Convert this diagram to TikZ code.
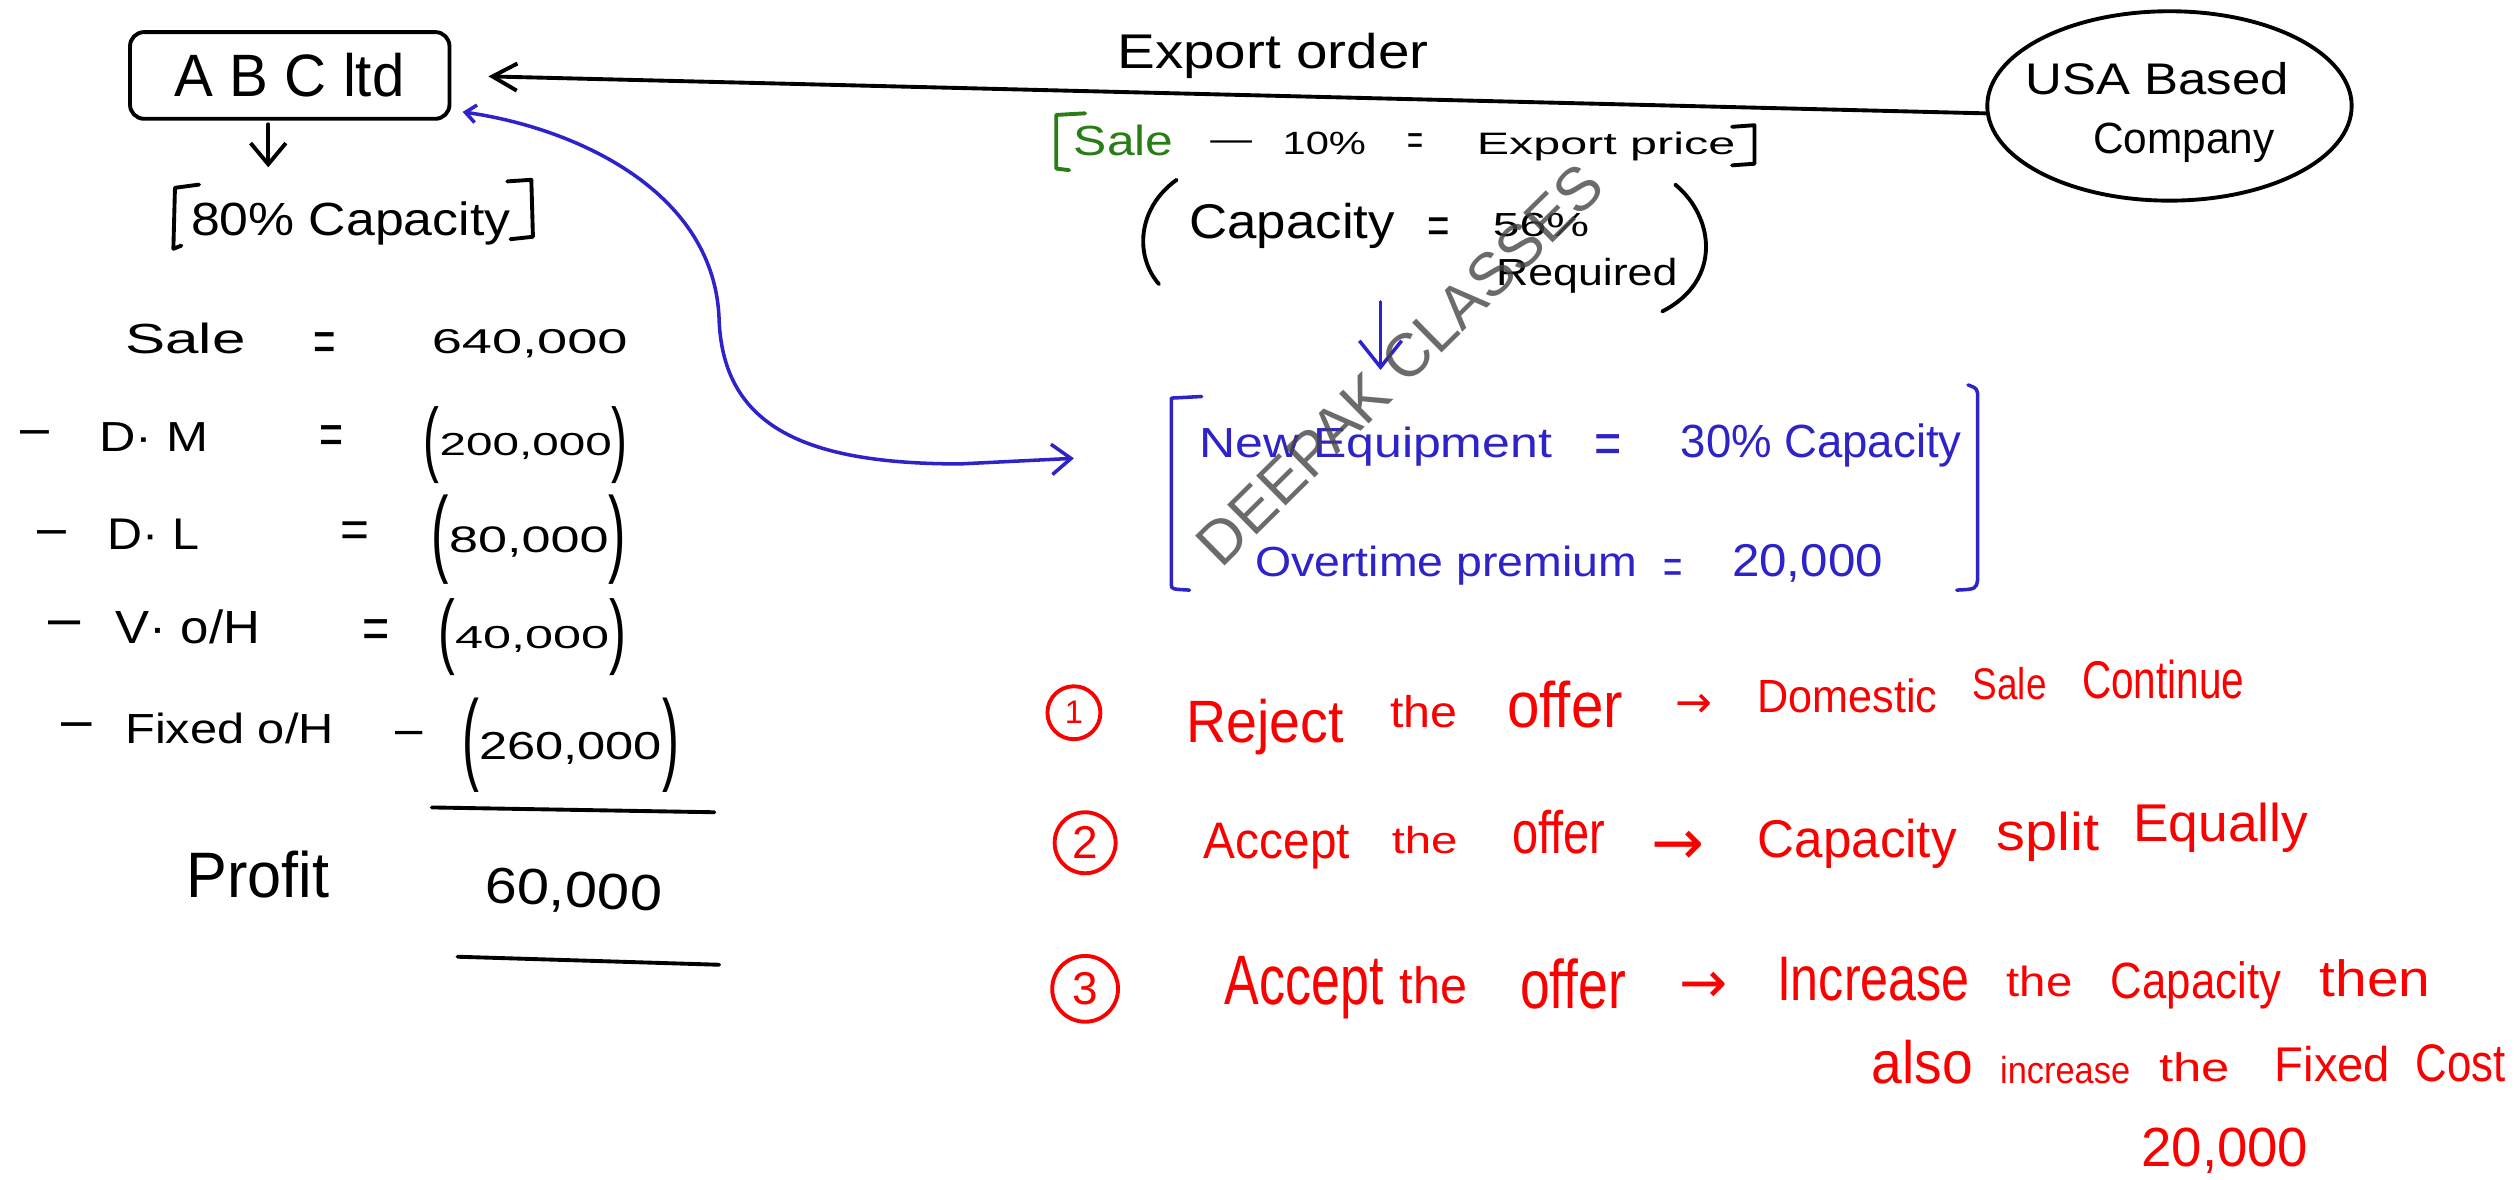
\documentclass[tikz,border=0pt]{standalone}
\usepackage{fontspec}
\setmainfont{Liberation Sans}
\newfontfamily\arrowfont{DejaVu Sans}
\usetikzlibrary{arrows.meta,shapes.geometric}
\definecolor{inkred}{RGB}{250,0,0}
\definecolor{inkblue}{RGB}{45,35,200}
\definecolor{inkgreen}{RGB}{40,125,20}
% one drawing unit
\newlength\du
\setlength\du{0.016cm}
% text squeezed into a given width and height (in drawing units)
\newcommand\hw[3]{\resizebox{#1\du}{#2\du}{#3}}
\newcommand\hwx[2]{\resizebox{#1\du}{!}{#2}}
% an amount in tall brackets
\newcommand\pv[1]{\raisebox{-0.32em}{\scalebox{1}[2.6]{(}}#1\raisebox{-0.32em}{\scalebox{1}[2.6]{)}}}

\begin{document}
\begin{tikzpicture}[x=0.016cm, y=-0.016cm,
  lbl/.style={inner sep=0pt, outer sep=0pt, anchor=base west},
  sym/.style={inner sep=0pt, outer sep=0pt, anchor=center},
  pen/.style={line width=1.1pt, line cap=round, line join=round},
  bluepen/.style={pen, draw=inkblue, line width=1pt},
  redtext/.style={text=inkred},
  bluetext/.style={text=inkblue},
  ringnum/.style={circle, draw=inkred, line width=1.1pt, inner sep=0pt, text=inkred}
]
\fill[white] (0,0) rectangle (1568,735);
\useasboundingbox (0,0) rectangle (1568,735);

% ---------------- company box and its capacity ----------------
\node[draw, line width=1.1pt, rounded corners=4pt, minimum width=199\du, minimum height=54\du, inner sep=0pt]
  (abc) at (180.5,47) {\hw{143}{27}{A B C ltd}};
\node[lbl] (cap80) at (119,147) {\hw{199}{21}{80\% Capacity}};
\draw[pen] (124,115) -- (109,117) -- (108,155) -- (113,153);
\draw[pen] (316,113) -- (331,112) -- (332,147.5) -- (318,149);
\draw[pen, -{Straight Barb[length=6pt,width=10pt]}, shorten <=1pt]
  ([xshift=-6.1pt]abc.south) -- ++(0,29);

% ---------------- statement of profit ----------------
\node[lbl] (sale) at (78,220) {\hw{75}{19}{Sale}};
\node[sym] (eq0) at (202,216) {\hw{14}{18}{=}};
\node[lbl] (v0) at (269,220) {\hw{122}{15}{640,000}};

\node[sym] (m1) at (21.5,273) {\hwx{18}{–}};
\node[lbl] (dm) at (62,281) {\hw{68}{18}{D· M}};
\node[sym] (eq1) at (206.5,274) {\hw{15}{18}{=}};
\node[lbl] (v1) at (264,284) {\hw{127}{31}{\pv{200,000}}};

\node[sym] (m2) at (32.5,335) {\hwx{18}{–}};
\node[lbl] (dl) at (67,342) {\hw{57}{19}{D· L}};
\node[sym] (eq2) at (221,333) {\hw{18}{16}{=}};
\node[lbl] (v2) at (269,344) {\hw{121}{36}{\pv{80,000}}};

\node[sym] (m3) at (40.5,392) {\hwx{20}{–}};
\node[lbl] (vo) at (72,401) {\hw{90}{21}{V· o/H}};
\node[sym] (eq3) at (234.5,395) {\hw{17}{18}{=}};
\node[lbl] (v3) at (273,404) {\hw{117}{31}{\pv{40,000}}};

\node[sym] (m4) at (48,455) {\hwx{19}{–}};
\node[lbl] (fo) at (78,463) {\hw{130}{19}{Fixed o/H}};
\node[sym] (m5) at (255,460) {\hwx{17}{–}};
\node[lbl] (v4) at (288,473) {\hw{135}{38}{\pv{260,000}}};

\draw[pen] (269,503) -- (445,506);
\node[lbl] (profit) at (116,559) {\hw{89}{29}{Profit}};
\node[lbl, rotate=-3] (v5) at (302,562) {\hw{110}{22}{60,000}};
\draw[pen] (285,596) -- (448,601);

% ---------------- export order ----------------
\node[lbl] (exp) at (696,42.6) {\hw{194}{22}{Export order}};
\node[draw, ellipse, line width=1.1pt, minimum width=227\du, minimum height=118\du] (usa) at (1351.5,66) {};
\node[lbl] (usa1) at (1262,59) {\hw{164}{20}{USA Based}};
\node[lbl] (usa2) at (1304,95.5) {\hw{113}{19}{Company}};
\draw[pen, -{Straight Barb[length=7pt,width=7.7pt]}, shorten >=10.5pt]
  ([yshift=-2.1pt]usa.west) -- (abc.east);

% export price
\draw[pen, draw=inkgreen] (676,70.6) -- (658,71.6) -- (658,105) -- (666,106);
\node[lbl, text=inkgreen] (saleg) at (669,96.6) {\hw{62}{19}{Sale}};
\node[sym] (minus) at (767,91) {\hw{26}{6}{–}};
\node[lbl] (ten) at (799,96) {\hw{52}{14}{10\%}};
\node[sym] (eq4) at (882,90) {\hw{10}{13}{=}};
\node[lbl] (expp) at (920,96) {\hw{161}{14}{Export price}};
\draw[pen] (1079,79) -- (1093,78) -- (1093,102) -- (1079,103);

% capacity required
\draw[pen] (733,112) .. controls (708,130) and (707,160) .. (722,177);
\draw[pen] (1043.6,115) .. controls (1068,135) and (1073,175) .. (1035.5,194);
\node[lbl] (capt) at (741,148.5) {\hw{128}{22}{Capacity}};
\node[sym] (eq5) at (896,144) {\hw{14}{16}{=}};
\node[lbl] (c56) at (930,147.5) {\hw{60}{14.5}{56\%}};
\node[lbl] (req) at (932,177.6) {\hw{113}{17}{Required}};

% ---------------- extra capacity (blue) ----------------
\coordinate (dn) at (860,188);
\draw[bluepen, -{Straight Barb[length=7.5pt,width=12pt]}] (dn) -- ++(0,42.5);

\draw[bluepen] (748.6,247) -- (729.7,248) -- (729.7,364.5) .. controls (730,367) .. (741,367.6);
\draw[bluepen] (1226,239.8) .. controls (1232,242) .. (1232,249) -- (1232,361) .. controls (1231,367) .. (1219,367.6);
\node[lbl, bluetext] (ne) at (747,285) {\hw{220}{19}{New Equipment}};
\node[sym, bluetext] (eq6) at (1001.5,280) {\hw{17}{18}{=}};
\node[lbl, bluetext] (c30) at (1047,285) {\hw{175}{21}{30\% Capacity}};
\node[lbl, bluetext] (ot) at (782,359.3) {\hw{238}{19}{Overtime premium}};
\node[sym, bluetext] (eq7) at (1042,356) {\hw{12}{15}{=}};
\node[lbl, bluetext] (v20) at (1079,359.3) {\hw{94}{20}{20,000}};

\coordinate (eqarrow) at (669,285.5);
\draw[bluepen, {Straight Barb[length=3pt,width=5pt]}-{Straight Barb[length=5.5pt,width=8.6pt]}]
  ([shift={(7,-5.5)}]abc.south east) .. controls (360,80) and (446,120) .. (448,200)
  .. controls (451,265) and (500,289) .. (598,289) -- (eqarrow);

% ---------------- watermark ----------------
\node[sym, rotate=44.6, text=black!72, opacity=0.8] (wm) at (872,227) {\hwx{337}{DEEPAK CLASSES}};

% ---------------- options (red) ----------------
\node[ringnum, minimum size=33\du] (n1) at (669,444) {\resizebox{!}{14\du}{1}};
\node[lbl, redtext] (rej) at (739,462.5) {\hw{98}{27}{Reject}};
\node[lbl, redtext] (the1) at (866,453) {\hw{42}{20}{the}};
\node[lbl, redtext] (off1) at (939,453) {\hw{72}{29}{offer}};
\node[sym, redtext] (ar1) at (1055.5,440) {\hwx{23}{\arrowfont →}};
\node[lbl, redtext] (dom) at (1095,444) {\hw{112}{21}{Domestic}};
\node[lbl, redtext] (sal) at (1229,436) {\hw{46}{20}{Sale}};
\node[lbl, redtext] (cont) at (1297,435) {\hw{101}{24}{Continue}};

\node[ringnum, minimum size=38\du] (n2) at (676,525) {\resizebox{!}{20\du}{2}};
\node[lbl, redtext] (acc2) at (750,535) {\hw{91}{22}{Accept}};
\node[lbl, redtext] (the2) at (867,532) {\hw{41}{17}{the}};
\node[lbl, redtext] (off2) at (942,532) {\hw{58}{27}{offer}};
\node[sym, redtext] (ar2) at (1045.5,528) {\hwx{33}{\arrowfont →}};
\node[lbl, redtext] (cap2) at (1095,534) {\hw{124}{24}{Capacity}};
\node[lbl, redtext] (spl) at (1244,530) {\hw{64}{24}{split}};
\node[lbl, redtext] (equ) at (1329,524) {\hw{109}{24}{Equally}};

\node[ringnum, minimum size=41\du] (n3) at (676,616) {\resizebox{!}{20\du}{3}};
\node[lbl, redtext] (acc3) at (763,626) {\hw{99}{30}{Accept}};
\node[lbl, redtext] (the3) at (872,625) {\hw{42}{23}{the}};
\node[lbl, redtext] (off3) at (947,628) {\hw{66}{31}{offer}};
\node[sym, redtext] (ar3) at (1061,615) {\hwx{30}{\arrowfont →}};
\node[lbl, redtext] (inc) at (1107,623) {\hw{120}{27}{Increase}};
\node[lbl, redtext] (the4) at (1250,621) {\hw{41}{19}{the}};
\node[lbl, redtext] (cap3) at (1315,622) {\hw{106}{23}{Capacity}};
\node[lbl, redtext] (then) at (1445,621) {\hw{69}{23}{then}};

\node[lbl, redtext] (also) at (1166,675) {\hw{63}{27}{also}};
\node[lbl, redtext] (inc2) at (1246,675) {\hw{81}{17}{increase}};
\node[lbl, redtext] (the5) at (1345,674) {\hw{44}{18}{the}};
\node[lbl, redtext] (fix) at (1417,674) {\hw{72}{22}{Fixed}};
\node[lbl, redtext] (cost) at (1505,674) {\hw{56}{23}{Cost}};
\node[lbl, redtext] (v20b) at (1334,726.5) {\hw{104}{24}{20,000}};
\end{tikzpicture}
\end{document}
